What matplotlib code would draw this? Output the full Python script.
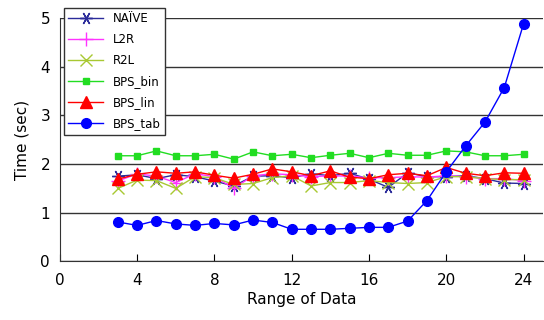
import matplotlib
matplotlib.use("Agg")
import matplotlib.pyplot as plt

x = list(range(3, 25))
naive = [1.75, 1.78, 1.70, 1.78, 1.74, 1.65, 1.55, 1.75, 1.76, 1.72, 1.80, 1.76, 1.81, 1.69, 1.52, 1.82, 1.74, 1.74, 1.76, 1.70, 1.61, 1.60]
l2r = [1.65, 1.80, 1.75, 1.62, 1.80, 1.74, 1.50, 1.76, 1.80, 1.78, 1.74, 1.76, 1.75, 1.72, 1.72, 1.74, 1.73, 1.76, 1.74, 1.70, 1.70, 1.66]
r2l = [1.50, 1.67, 1.66, 1.50, 1.74, 1.72, 1.58, 1.60, 1.72, 1.76, 1.55, 1.62, 1.62, 1.66, 1.62, 1.60, 1.62, 1.74, 1.74, 1.70, 1.68, 1.68]
bps_bin = [2.17, 2.17, 2.27, 2.17, 2.17, 2.20, 2.10, 2.25, 2.17, 2.20, 2.13, 2.18, 2.22, 2.13, 2.22, 2.18, 2.18, 2.27, 2.25, 2.17, 2.17, 2.20]
bps_lin = [1.69, 1.79, 1.84, 1.81, 1.84, 1.77, 1.71, 1.79, 1.90, 1.84, 1.76, 1.86, 1.73, 1.70, 1.78, 1.81, 1.76, 1.93, 1.81, 1.76, 1.82, 1.81]
bps_tab = [0.81, 0.74, 0.84, 0.77, 0.74, 0.78, 0.75, 0.85, 0.80, 0.66, 0.66, 0.66, 0.68, 0.70, 0.70, 0.83, 1.25, 1.84, 2.37, 2.86, 3.57, 4.88]

xticks = [0, 4, 8, 12, 16, 20, 24]
yticks = [0, 1, 2, 3, 4, 5]

fig = plt.figure(figsize=(5.44, 3.2), dpi=100)
ax = fig.add_axes([0.110, 0.183, 0.888, 0.761])

ax.plot(x, naive, color="#2b2b9a", lw=1, marker=(6, 2, 90), ms=9, mew=1, label="NAÏVE")
ax.plot(x, l2r, color="#ff33ff", lw=1, marker="+", ms=10, mew=1, label="L2R")
ax.plot(x, r2l, color="#a8c832", lw=1, marker="x", ms=8, mew=1, label="R2L")
ax.plot(x, bps_bin, color="#22dd22", lw=1, marker="s", ms=4.5, label="BPS_bin")
ax.plot(x, bps_lin, color="#ff0000", lw=1, marker="^", ms=8.5, label="BPS_lin")
ax.plot(x, bps_tab, color="#0000ff", lw=1, marker="o", ms=7, label="BPS_tab")

ax.set_xlim(0, 25)
ax.set_ylim(0, 5)
ax.set_xticks(xticks)
ax.set_yticks(yticks)
ax.yaxis.grid(True, color="#333333", lw=1)
ax.set_axisbelow(True)
for s in ["top", "right"]:
    ax.spines[s].set_visible(False)
for s in ["left", "bottom"]:
    ax.spines[s].set_color("#333333")
ax.tick_params(axis="x", direction="in", length=5, labelsize=11, pad=8)
ax.tick_params(axis="y", length=0, labelsize=11, pad=7)
ax.set_xlabel("Range of Data", fontsize=11, labelpad=3)
ax.set_ylabel("Time (sec)", fontsize=11, labelpad=8)

leg = ax.legend(loc="upper left", bbox_to_anchor=(0.008, 1.04), fontsize=8.5,
                frameon=True, fancybox=False, edgecolor="#333333",
                handlelength=3.0, borderpad=0.35, labelspacing=0.68, borderaxespad=0)
leg.get_frame().set_linewidth(1)
leg.get_frame().set_alpha(1)

fig.savefig("out.png", dpi=100)
